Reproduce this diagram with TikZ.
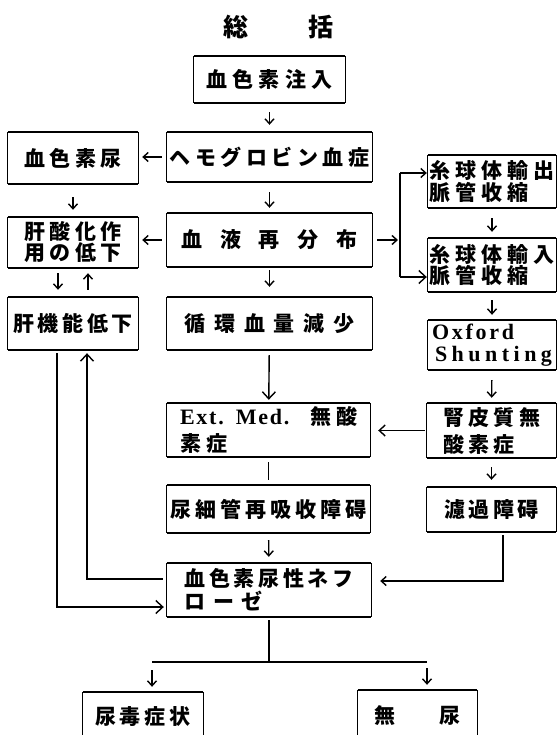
\documentclass[tikz,border=0pt]{standalone}
\usepackage{fontspec}
\usetikzlibrary{arrows.meta,calc}
\newfontfamily\cjk{Noto Sans CJK JP}
\newfontfamily\lat{Liberation Serif}[LetterSpace=8]
\makeatletter
\newcommand\sprd[2]{\makebox[#1][s]{\sprd@loop#2\sprd@end}}
\def\sprd@loop#1#2\sprd@end{#1\ifx\relax#2\relax\else\hfill\sprd@loop#2\sprd@end\fi}
\makeatother
\newcommand\cjkf{\cjk\bfseries\fontsize{21}{22}\selectfont}
\newcommand\latf{\lat\bfseries\fontsize{22}{22}\selectfont}
\newcommand\boxlines[1]{%
  \draw[line width=1.5pt] (#1.north west) -- (#1.north east);
  \draw[line width=1.5pt] (#1.south west) -- (#1.south east);
  \draw[line width=0.7pt] (#1.north west) -- (#1.south west);
  \draw[line width=0.7pt] (#1.north east) -- (#1.south east);}
\tikzset{
  bx/.style={inner sep=0pt, align=center, font=\cjkf},
  ln/.style={line width=1.4pt},
  arr/.style={ln, -{Straight Barb[length=5pt,width=9pt]}},
  barr/.style={ln, -{Straight Barb[length=7pt,width=13pt]}}
}
\begin{document}
\begin{tikzpicture}[x=1pt,y=-1pt]
\useasboundingbox (0,0) rectangle (556,735);
% title
\node[font=\cjk\bfseries\fontsize{25}{25}\selectfont] (title) at (278,27) {\sprd{110pt}{総括}};
% boxes
\node[bx, minimum width=151pt, minimum height=47pt] (inj) at (269.5,79.5) {\sprd{127pt}{血色素注入}};
\node[bx, minimum width=205pt, minimum height=50pt] (hemo) at (269.5,157) {\sprd{200pt}{ヘモグロビン血症}};
\node[bx, minimum width=130pt, minimum height=52pt] (hu) at (73,158) {\sprd{97pt}{血色素尿}};
\node[bx, minimum width=130pt, minimum height=51pt, font=\cjk\bfseries\fontsize{21}{21}\selectfont] (hox) at (73,242.5) {\sprd{97pt}{肝酸化作}\\\sprd{97pt}{用の低下}};
\node[bx, minimum width=130pt, minimum height=53pt] (hfn) at (73,323.5) {\sprd{120pt}{肝機能低下}};
\node[bx, minimum width=205pt, minimum height=54pt] (redis) at (269.5,240) {\sprd{177pt}{血液再分布}};
\node[bx, minimum width=205pt, minimum height=53pt] (circ) at (269.5,323.5) {\sprd{170pt}{循環血量減少}};
\node[bx, align=left, minimum width=128pt, minimum height=53pt, font=\cjk\bfseries\fontsize{21}{21}\selectfont] (eff) at (492,181.5) {\sprd{125pt}{糸球体輸出}\\\sprd{99pt}{脈管收縮}};
\node[bx, align=left, minimum width=128pt, minimum height=54pt, font=\cjk\bfseries\fontsize{21}{21}\selectfont] (aff) at (492,265) {\sprd{125pt}{糸球体輸入}\\\sprd{99pt}{脈管收縮}};
\node[bx, align=left, minimum width=128pt, minimum height=50pt, font=\latf] (ox) at (492,345) {\sprd{82pt}{Oxford}\\\hspace{3pt}\sprd{117pt}{Shunting}};
\node[bx, align=left, minimum width=129pt, minimum height=55pt] (ctx) at (491.5,430.5) {\sprd{97pt}{腎皮質無}\\[5pt]\sprd{72pt}{酸素症}};
\node[bx, align=left, minimum width=203pt, minimum height=54pt] (ext) at (268.5,430) {\makebox[177pt][l]{{\latf Ext.\hspace{12pt}Med.}\hfill 無\hspace{5pt}酸}\\[5pt]\sprd{47pt}{素症}};
\node[bx, minimum width=203pt, minimum height=48pt] (tub) at (268.5,509) {\sprd{197pt}{尿細管再吸收障碍}};
\node[bx, minimum width=129pt, minimum height=45pt] (filt) at (491.5,509.5) {\sprd{95pt}{濾過障碍}};
\node[bx, align=left, minimum width=204pt, minimum height=54pt, font=\cjk\bfseries\fontsize{21}{23}\selectfont] (neph) at (269,590) {\sprd{169pt}{血色素尿性ネフ}\\\sprd{78pt}{ローゼ}};
\node[bx, minimum width=120pt, minimum height=50pt] (ure) at (143,717) {\sprd{96pt}{尿毒症状}};
\node[bx, minimum width=119pt, minimum height=52pt] (anu) at (417.5,716) {\sprd{87pt}{無尿}};
\foreach \n in {inj,hemo,hu,hox,hfn,redis,circ,eff,aff,ox,ctx,ext,tub,filt,neph,ure,anu} {\boxlines{\n}}
% connectors
\draw[arr, shorten <=9pt, shorten >=7pt] (inj) -- (hemo);
\draw[arr, shorten <=5pt, shorten >=4pt] (hemo.west) -- (hemo.west -| hu.east);
\draw[arr, shorten <=13pt, shorten >=7pt] (hu) -- (hox);
\draw[arr, shorten <=10pt, shorten >=5pt] (hemo) -- (redis);
\draw[arr, shorten <=5pt, shorten >=4pt] (redis.west) -- (redis.west -| hox.east);
\draw[arr, shorten <=3pt, shorten >=10pt] (redis) -- (circ);
\draw[arr, shorten <=5pt, shorten >=7pt] ($(hox.south)+(-15,0)$) -- ($(hfn.north)+(-15,0)$);
\draw[arr, shorten <=7pt, shorten >=5pt] ($(hfn.north)+(15,0)$) -- ($(hox.south)+(15,0)$);
% bracket to glomerular boxes
\coordinate (br) at (400,240);
\coordinate (brT) at (400,173);
\coordinate (brB) at (400,277);
\draw[arr, shorten <=5pt, shorten >=2pt] (redis.east) -- (br);
\draw[ln] (brT) -- (brB);
\draw[arr, shorten >=1pt] (brT) -- (brT -| eff.west);
\draw[barr, shorten >=1pt] (brB) -- (brB -| aff.west);
\draw[arr, shorten <=10pt, shorten >=6pt] (eff) -- (aff);
\draw[arr, shorten <=8pt, shorten >=5pt] (aff) -- (ox);
\draw[arr, shorten <=10pt, shorten >=5pt] (ox) -- (ctx);
\draw[ln, -{Straight Barb[length=6pt,width=11pt]}, shorten <=2pt, shorten >=8pt] (ctx.west) -- (ctx.west -| ext.east);
\draw[arr, shorten <=9pt, shorten >=7pt] (ctx) -- (filt);
\draw[barr, shorten <=5pt, shorten >=3pt] (circ) -- (ext);
\draw[ln, shorten <=5pt, shorten >=5pt] (ext) -- (tub);
\draw[arr, shorten <=7pt, shorten >=6pt] (tub) -- (neph);
\draw[arr, shorten <=3pt, shorten >=9pt] ($(filt.south)+(11.5,0)$) |- ($(neph.east)+(0,-9)$);
\draw[barr, shorten >=3pt] ($(neph.west)+(-4,-11)$) -| ($(hfn.south)+(14,0)$);
\draw[barr, shorten <=3pt, shorten >=3pt] ($(hfn.south)+(-16,0)$) |- ($(neph.west)+(0,17)$);
% split to outcomes
\coordinate (spL) at (152,662);
\coordinate (spR) at (427,662);
\draw[ln, shorten <=3pt] (neph.south) -- (neph.south |- spL);
\draw[ln] (spL) -- (spR);
\draw[arr, shorten <=8pt, shorten >=5pt] (spL) -- (spL |- ure.north);
\draw[arr, shorten <=6pt, shorten >=5pt] (spR) -- (spR |- anu.north);
\end{tikzpicture}
\end{document}
